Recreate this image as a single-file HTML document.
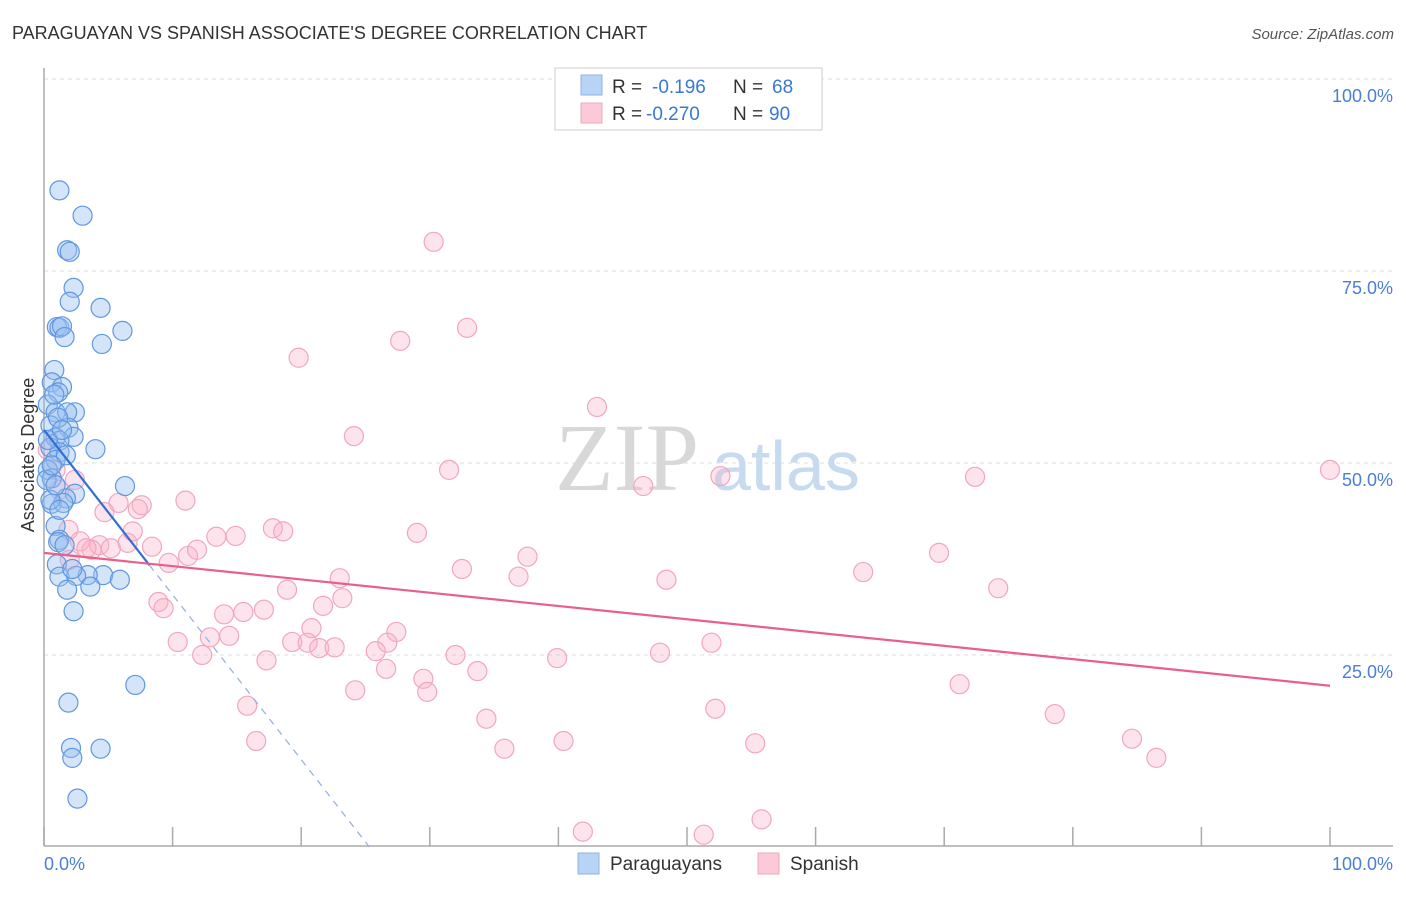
<!DOCTYPE html>
<html><head><meta charset="utf-8"><style>
body{margin:0;background:#fff;font-family:"Liberation Sans",sans-serif;}
svg text{font-family:"Liberation Sans",sans-serif;}
</style></head><body>
<svg id="chart" width="1406" height="892" viewBox="0 0 1406 892" xmlns="http://www.w3.org/2000/svg">
<text x="12" y="39" font-size="18" fill="#333">PARAGUAYAN VS SPANISH ASSOCIATE'S DEGREE CORRELATION CHART</text>
<text x="1394" y="39" font-size="15" fill="#555" text-anchor="end" font-style="italic">Source: ZipAtlas.com</text>
<g id="grid"></g>
<text x="555" y="490" font-size="96" fill="#d8d8d8" font-family="Liberation Serif" style="font-family:'Liberation Serif',serif">ZIP</text>
<text x="712" y="490" font-size="70" fill="#c6daf0">atlas</text>
<line x1="44" y1="68" x2="44" y2="846" stroke="#aaa" stroke-width="1.5"/>
<line x1="44" y1="846" x2="1393" y2="846" stroke="#aaa" stroke-width="1.5"/>
<g id="xticks"></g>
<g id="ylabels"></g>
<text x="44" y="870" font-size="18" fill="#4a7fd4">0.0%</text>
<text x="1393" y="870" font-size="18" fill="#4a7fd4" text-anchor="end">100.0%</text>
<text transform="translate(34,455) rotate(-90)" font-size="18" fill="#333" text-anchor="middle">Associate's Degree</text>
<g id="pts-spanish"></g>
<g id="pts-para"></g>
<g id="trends"></g>
<g>
<rect x="555" y="68" width="267" height="62" fill="#fff" stroke="#ccc"/>
<rect x="581" y="75" width="21" height="20" fill="#b8d3f5" stroke="#8ab3ea"/>
<rect x="581" y="103" width="21" height="20" fill="#fcc9d8" stroke="#f3a8bf"/>
<text x="612" y="93" font-size="19" fill="#333">R = </text><text x="652" y="93" font-size="19" fill="#3a78d4">-0.196</text>
<text x="733" y="93" font-size="19" fill="#333">N = </text><text x="772" y="93" font-size="19" fill="#3a78d4">68</text>
<text x="612" y="120" font-size="19" fill="#333">R = </text><text x="646" y="120" font-size="19" fill="#3a78d4">-0.270</text>
<text x="733" y="120" font-size="19" fill="#333">N = </text><text x="769" y="120" font-size="19" fill="#3a78d4">90</text>
</g>
<g>
<rect x="578" y="853" width="21" height="21" fill="#b8d3f5" stroke="#8ab3ea"/>
<text x="610" y="870" font-size="19" fill="#333">Paraguayans</text>
<rect x="758" y="853" width="21" height="21" fill="#fcc9d8" stroke="#f3a8bf"/>
<text x="790" y="870" font-size="19" fill="#333">Spanish</text>
</g>
</svg>
<script>
const yTicks=[25,50,75,100];
const yTickLabels=["25.0%","50.0%","75.0%","100.0%"];
const xTicks=[0,10,20,30,40,50,60,70,80,90,100];
const paraX=[1.2,3.0,1.8,2.0,2.3,2.0,4.4,1.0,1.2,1.4,6.1,1.6,4.5,0.8,0.6,1.4,1.1,0.3,0.9,2.4,1.8,0.5,1.9,0.9,2.3,1.2,0.5,4.0,1.2,0.9,0.3,0.6,6.3,2.4,1.7,0.6,1.5,0.9,1.2,1.1,1.0,4.6,1.2,3.4,2.5,2.2,3.6,5.9,1.8,2.3,7.1,1.9,2.1,4.4,2.2,2.6,0.2,0.3,0.5,0.8,1.1,1.4,1.7,0.6,0.9,1.2,1.6];
const paraY=[85.5,82.2,77.7,77.5,72.8,71.0,70.2,67.7,67.6,67.8,67.2,66.4,65.5,62.1,60.5,59.9,59.2,57.6,56.6,56.6,56.6,54.9,54.6,53.3,53.4,52.9,52.0,51.8,51.4,50.4,49.1,48.0,47.0,46.0,45.4,44.7,44.8,41.8,40.0,39.7,36.8,35.4,35.2,35.4,35.3,36.2,33.9,34.8,33.5,30.7,21.1,18.8,12.9,12.8,11.6,6.3,47.8,53.0,45.2,58.9,55.9,54.3,51.0,49.7,47.1,43.9,39.3];
const spanX=[30.3,32.9,19.8,27.7,43.0,24.1,31.5,46.6,52.6,72.4,100,11.0,5.8,7.6,4.7,7.3,13.4,14.9,17.8,18.6,29.0,1.9,2.8,4.3,3.7,5.2,6.5,6.9,8.4,11.2,11.9,9.7,37.6,32.5,36.9,48.4,63.7,69.6,74.2,23.0,18.9,8.9,9.3,21.7,23.2,14.0,15.5,17.1,20.8,10.4,12.9,14.4,19.3,20.5,21.4,22.6,27.4,26.7,25.8,12.3,17.3,32.0,33.7,26.6,39.9,47.9,51.9,24.2,29.5,29.8,71.2,15.8,34.4,52.2,78.6,16.5,35.8,40.4,55.3,84.6,86.5,41.9,51.3,55.8,1.2,2.4,0.9,0.3,2.0,3.3];
const spanY=[78.8,67.6,63.7,65.9,57.3,53.5,49.1,47.0,48.3,48.2,49.1,45.1,44.8,44.5,43.6,44.0,40.4,40.5,41.5,41.1,40.9,41.3,39.8,39.3,38.7,38.9,39.6,41.1,39.1,37.9,38.7,37.0,37.8,36.2,35.2,34.8,35.8,38.3,33.7,35.0,33.5,31.9,31.1,31.4,32.4,30.3,30.6,30.9,28.5,26.7,27.3,27.5,26.7,26.6,25.9,26.0,28.0,26.6,25.5,25.0,24.3,25.0,22.9,23.2,24.6,25.3,26.6,20.4,21.9,20.2,21.2,18.4,16.7,18.0,17.3,13.8,12.8,13.8,13.5,14.1,11.6,2.0,1.6,3.6,46.5,47.8,49.1,51.7,37.4,38.9];
const paraTrendX=[0,8.2,25.3];
const paraTrendY=[54.3,36.7,0];
const spanTrendX=[0,100];
const spanTrendY=[38.3,21.0];

const NS="http://www.w3.org/2000/svg";
const sx=v=>44+v*12.86;
const sy=v=>847-v*7.68;
function mk(tag,attrs,parent){const e=document.createElementNS(NS,tag);for(const k in attrs)e.setAttribute(k,attrs[k]);parent.appendChild(e);return e;}
const grid=document.getElementById('grid');
const yl=document.getElementById('ylabels');
yTicks.forEach((t,i)=>{
  const l=mk('line',{x1:44,x2:1393,y1:sy(t),y2:sy(t),stroke:'#ddd','stroke-dasharray':'4,4'},grid);
  
  
  const tx=mk('text',{x:1393,y:sy(t)+23,'font-size':18,fill:'#4a7fd4','text-anchor':'end'},yl);
  tx.textContent=yTickLabels[i];
  
  
});
const xt=document.getElementById('xticks');
xTicks.forEach(t=>{
  const l=mk('line',{x1:sx(t),x2:sx(t),y1:827,y2:846,stroke:'#aaa','stroke-width':1.5},xt);
  
  
});
const gs=document.getElementById('pts-spanish');
spanX.forEach((x,i)=>{
  const c=mk('circle',{cx:sx(x),cy:sy(spanY[i]),r:9.5,fill:'rgba(248,178,200,0.35)',stroke:'#f2a6be','stroke-width':1.2},gs);
  
  
});
const gp=document.getElementById('pts-para');
paraX.forEach((x,i)=>{
  const c=mk('circle',{cx:sx(x),cy:sy(paraY[i]),r:9.5,fill:'rgba(150,190,240,0.4)',stroke:'#5f97e0','stroke-width':1.2},gp);
  
  
});
const tr=document.getElementById('trends');
const b1=mk('line',{x1:sx(paraTrendX[0]),y1:sy(paraTrendY[0]),x2:sx(paraTrendX[1]),y2:sy(paraTrendY[1]),stroke:'#2f6fd6','stroke-width':2.2},tr);


const b2=mk('line',{x1:sx(paraTrendX[1]),y1:sy(paraTrendY[1]),x2:sx(paraTrendX[2]),y2:sy(paraTrendY[2]),stroke:'#8fb0e0','stroke-width':1.2,'stroke-dasharray':'7,6'},tr);


const p1=mk('line',{x1:sx(spanTrendX[0]),y1:sy(spanTrendY[0]),x2:sx(spanTrendX[1]),y2:sy(spanTrendY[1]),stroke:'#e8608a','stroke-width':2.2},tr);


</script>
</body></html>
